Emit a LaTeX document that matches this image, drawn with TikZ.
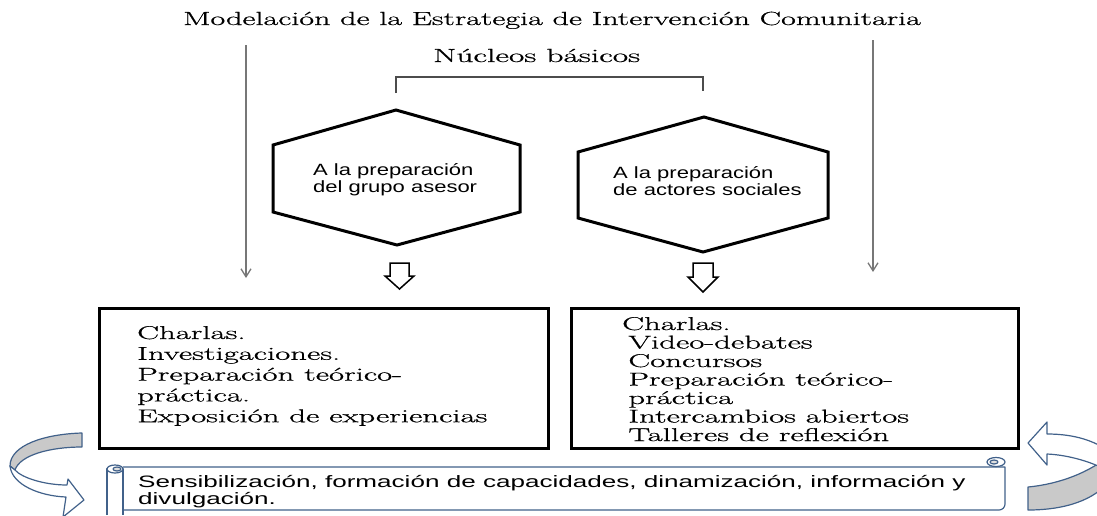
\documentclass[tikz,border=0pt]{standalone}
\usepackage{fontspec}
\usepackage{graphicx}
\usetikzlibrary{arrows.meta}
\newfontfamily\arialf{Liberation Sans}
\newfontfamily\romanf[FakeBold=0.6]{Latin Modern Roman}
\definecolor{scrollblue}{HTML}{41618A}
\definecolor{bandgray}{HTML}{C9C9C9}
\definecolor{guidegray}{HTML}{777777}
\newcommand{\wide}[2]{\scalebox{#1}[1]{#2}}
\begin{document}
\begin{tikzpicture}[x=1pt,y=-1pt]
      \tikzset{hexa/.style={line width=3pt, line join=miter},
               listbox/.style={draw, line width=2.6pt, inner sep=0pt},
               guide/.style={draw=guidegray, line width=1.3pt, -{Straight Barb[length=8pt,width=10pt]}},
               hollow/.style={draw, line width=1.5pt, fill=white, line join=miter},
               band/.style={draw=scrollblue, line width=1.2pt, line join=round},
               serif/.style={font=\romanf\fontsize{19}{20}\selectfont, inner sep=0pt},
               sans/.style={font=\arialf\fontsize{16.3}{17}\selectfont, inner sep=0pt}}
      \useasboundingbox (0,0) rectangle (1097,515);
      \clip (0,0) rectangle (1097,515);
%% Titles
      \node[serif, anchor=base west] (titulo) at (183,25) {\wide{1.69}{Modelación de la Estrategia de Intervención Comunitaria}};
      \node[serif, anchor=base west] (nucleos) at (433,62) {\wide{1.76}{Núcleos básicos}};
	%bracket
      \coordinate (brL) at (396,93);
      \coordinate (brR) at (703,91);
      \draw[black!70, line width=1.2pt] (brL) |- ([yshift=14pt]brR) -- (brR);
%% Guide arrows
      \coordinate (guideLa) at (246,45);
      \coordinate (guideLb) at (246,278);
      \coordinate (guideRa) at (873,40);
      \coordinate (guideRb) at (873,272);
      \draw[guide] (guideLa) -- (guideLb);
      \draw[guide] (guideRa) -- (guideRb);
%% Hexagons
      \draw[hexa] (396,110) -- (520,145) -- (520,212) -- (397,245) -- (273,212) -- (273,145) -- cycle;
      \draw[hexa] (704,117) -- (828,152) -- (828,218) -- (703,252) -- (578,218) -- (578,152) -- cycle;
      \node[sans, anchor=base west] (grupo) at (313,175) {\wide{1.35}{\begin{tabular}[t]{@{}l@{}}A la preparación\\del grupo asesor\end{tabular}}};
      \node[sans, anchor=base west] (actores) at (613,178) {\wide{1.35}{\begin{tabular}[t]{@{}l@{}}A la preparación\\de actores sociales\end{tabular}}};
%% Hollow arrows
      \draw[hollow] (390,263) -- (409,263) -- (409,276) -- (414,276) -- (399.5,289) -- (385,276) -- (390,276) -- cycle;
      \draw[hollow] (693,263) -- (713,263) -- (713,277) -- (718,277) -- (703,292) -- (688,277) -- (693,277) -- cycle;
%% Boxes
      \node[listbox, minimum width=449pt, minimum height=140pt, anchor=north west] (accL) at (98,307) {};
      \node[listbox, minimum width=447pt, minimum height=140pt, anchor=north west] (accR) at (570,307) {};
      \node[inner sep=0pt, anchor=base west, font=\romanf\fontsize{18.5}{20.8}\selectfont] (listaL) at (137,339)
          {\wide{1.77}{\begin{tabular}[t]{@{}l@{}}Charlas.\\Investigaciones.\\Preparación teórico-\\práctica.\\Exposición de experiencias\end{tabular}}};
      \node[inner sep=0pt, anchor=base west, font=\romanf\fontsize{18.5}{18.5}\selectfont] (listaR) at (622,330)
          {\wide{1.77}{\begin{tabular}[t]{@{}l@{}}Charlas.\\\hspace*{3.5pt}Video-debates\\\hspace*{3.5pt}Concursos\\\hspace*{3.5pt}Preparación teórico-\\\hspace*{3.5pt}práctica\\\hspace*{3.5pt}Intercambios abiertos\\\hspace*{3.5pt}Talleres de reflexión\end{tabular}}};
%% Curved arrows
	%left
      \draw[band, fill=bandgray] (82,433) .. controls (45,434) and (10,445) .. (10,466) -- (15,470) .. controls (20,455) and (50,447) .. (82,447) -- cycle;
      \draw[band, fill=white] (10,466) .. controls (12,485) and (40,496) .. (66,497) -- (63,517) -- (84,500) -- (68,479) -- (67,485) .. controls (45,485) and (22,478) .. (15,470) -- cycle;
	%right
      \draw[band, fill=bandgray] (1028,487) -- (1028,510) .. controls (1065,510) and (1095,500) .. (1110,480) -- (1110,455) .. controls (1090,472) and (1060,484) .. (1028,487) -- cycle;
      \draw[band, fill=white] (1047,454) -- (1047,465) -- (1028,443) -- (1047,422) -- (1047,434) .. controls (1075,434) and (1095,441) .. (1110,452) -- (1110,472) .. controls (1095,463) and (1070,455) .. (1047,454) -- cycle;
%% Scroll
      \draw[band, fill=white] (123,467) -- (1005,467) -- (1005,504) arc[start angle=0, end angle=90, radius=6] -- (123,510);
      \draw[band, fill=white] (996,462) ellipse[x radius=9, y radius=4.5];
      \draw[band, fill=bandgray!60] (994,462) ellipse[x radius=4, y radius=2];
      \draw[band, fill=white] (107,515) -- (107,469) -- (123,469) -- (123,515);
      \draw[band, fill=white] (115,469) ellipse[x radius=8, y radius=4];
      \draw[band, fill=bandgray!60] (117,469) ellipse[x radius=4, y radius=2];
      \node[inner sep=0pt, anchor=base west, font=\arialf\fontsize{16.5}{16.3}\selectfont] (lema) at (138,487)
          {\wide{1.58}{\begin{tabular}[t]{@{}l@{}}Sensibilización, formación de capacidades, dinamización, información y\\divulgación.\end{tabular}}};
\end{tikzpicture}
\end{document}
